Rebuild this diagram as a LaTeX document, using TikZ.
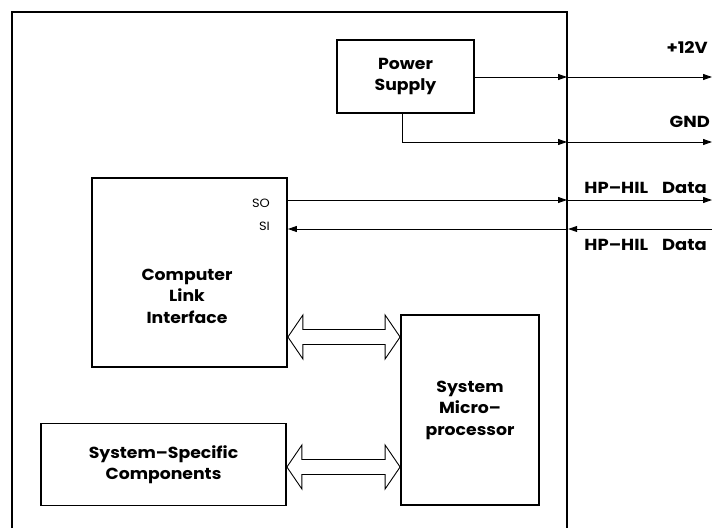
\documentclass[tikz,border=0pt]{standalone}
\usepackage{fontspec}
\setmainfont{Poppins}
\newfontfamily\bodyfont{Poppins}[FakeStretch=1.08,Ligatures=TeX]
\newfontfamily\labfont{Poppins}[FakeStretch=1.12,Ligatures=TeX]
\usetikzlibrary{arrows.meta,calc}
\begin{document}
\begin{tikzpicture}[x=1pt,y=-1pt,
  txt/.style={inner sep=0pt,align=center,font=\bodyfont\fontsize{16}{21.5}\selectfont\bfseries},
  box/.style={draw,line width=1.8pt,txt},
  sig/.style={line width=0.9pt,-{Triangle[length=9pt,width=6pt]}},
  lab/.style={font=\labfont\fontsize{16}{18}\selectfont\bfseries,inner sep=0pt},
  pin/.style={font=\bodyfont\fontsize{12}{14}\selectfont,inner sep=0pt},
  bus/.style={draw,line width=0.9pt,line join=miter}]
\useasboundingbox (0,0) rectangle (712,528);
% outer frame (open at bottom)
\coordinate (fBL) at (12,528);
\coordinate (fTL) at (12,12);
\coordinate (fTR) at (567,12);
\coordinate (fBR) at (567,528);
\draw[line width=2.2pt] (fBL) -- (fTL) -- (fTR) -- (fBR);
% boxes
\node[box,minimum width=137pt,minimum height=73pt] (ps) at (405.5,76.5) {Power\\Supply};
\node[box,minimum width=195pt,minimum height=189pt] (cli) at (189.5,272.5) {};
\node[txt] (clit) at (187,296) {Computer\\Link\\Interface};
\node[box,minimum width=138pt,minimum height=190pt] (mp) at (470,410) {System\\Micro--\\processor};
\node[box,minimum width=245pt,minimum height=82pt] (ssc) at (163.5,464.5) {System--Specific\\Components};
% pins
\node[pin,anchor=east] (so) at (270,203) {SO};
\node[pin,anchor=east] (si) at (270,226) {SI};
% external ends
\coordinate (e12) at (712,77);
\coordinate (egnd) at (712,142);
\coordinate (eso) at (712,200);
\coordinate (esi) at (712,229);
\coordinate (f12) at (567,77);
\coordinate (fgnd) at (567,142);
\coordinate (fso) at (567,200);
\coordinate (fsi) at (567,229);
\coordinate (gndc) at (402,142);
% power lines
\draw[sig] (ps.east |- f12) -- (f12);
\draw[sig] (f12) -- (e12);
\draw[line width=0.9pt] (ps.south -| gndc) -- (gndc);
\draw[sig] (gndc) -- (fgnd);
\draw[sig] (fgnd) -- (egnd);
% serial lines
\draw[sig] (cli.east |- fso) -- (fso);
\draw[sig] (fso) -- (eso);
\draw[sig] (esi) -- ([xshift=1.2pt]fsi);
\draw[sig] ([xshift=1.2pt]fsi) -- (cli.east |- fsi);
% labels
\node[lab,anchor=south east] (l12) at (708,54) {+12V};
\node[lab,anchor=south east] (lgnd) at (710,128) {GND};
\node[lab,anchor=south east] (lso) at (707,194) {HP--HIL\hspace{14pt}Data};
\node[lab,anchor=south east] (lsi) at (707,251) {HP--HIL\hspace{14pt}Data};
% hollow bus arrows
\newcommand\busarrow[3]{%
  \draw[bus] ($(#1.east |- 0,#3)$) -- ++(15,-22) -- ++(0,14.5)
    -- ($(#2.west |- 0,#3)+(-15,-7.5)$) -- ++(0,-14.5) -- ($(#2.west |- 0,#3)$)
    -- ++(-15,22) -- ++(0,-14.5) -- ($(#1.east |- 0,#3)+(15,7.5)$) -- ++(0,14.5) -- cycle;}
\busarrow{cli}{mp}{337}
\busarrow{ssc}{mp}{467}
\end{tikzpicture}
\end{document}
